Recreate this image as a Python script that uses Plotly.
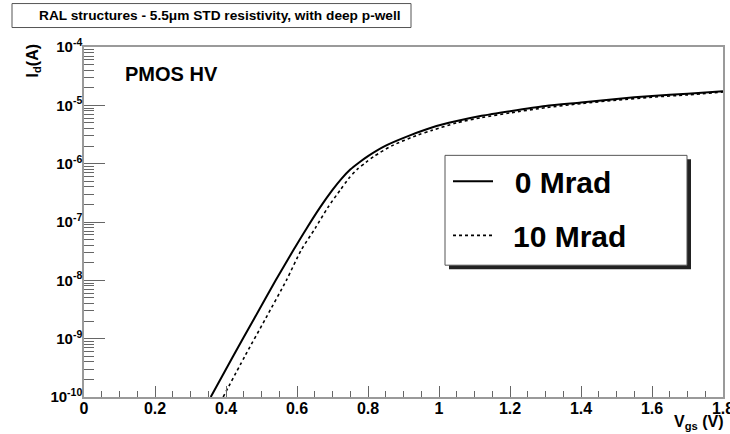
import plotly.graph_objects as go

# ---- data ----
vgs_0mrad = [0.357, 0.42, 0.48, 0.54, 0.59, 0.627, 0.665, 0.70, 0.725, 0.75, 0.775, 0.80, 0.85, 0.92,
             0.98, 1.05, 1.12, 1.20, 1.30, 1.40, 1.50, 1.60, 1.70, 1.80]
id_0mrad = [1.0e-10, 5.0e-10, 2.24e-9, 1.0e-8, 3.31e-8, 7.76e-8, 1.78e-7, 3.55e-7, 5.50e-7, 7.94e-7,
            1.05e-6, 1.35e-6, 2.04e-6, 3.09e-6, 4.17e-6, 5.37e-6, 6.61e-6, 7.94e-6, 9.77e-6, 1.12e-5,
            1.29e-5, 1.45e-5, 1.58e-5, 1.74e-5]

vgs_10mrad = [0.392, 0.453, 0.512, 0.57, 0.612, 0.651, 0.687, 0.722, 0.745, 0.769, 0.794, 0.818, 0.868,
              0.94, 0.98, 1.05, 1.12, 1.20, 1.30, 1.40, 1.50, 1.60, 1.70, 1.80]
id_10mrad = [1.0e-10, 5.0e-10, 2.24e-9, 1.0e-8, 3.31e-8, 7.76e-8, 1.78e-7, 3.55e-7, 5.50e-7, 7.94e-7,
             1.05e-6, 1.35e-6, 2.04e-6, 3.09e-6, 3.72e-6, 5.01e-6, 6.17e-6, 7.41e-6, 9.12e-6, 1.07e-5,
             1.23e-5, 1.38e-5, 1.51e-5, 1.70e-5]

x_tick_vals = [0, 0.2, 0.4, 0.6, 0.8, 1.0, 1.2, 1.4, 1.6, 1.8]
x_tick_text = ["0", "0.2", "0.4", "0.6", "0.8", "1", "1.2", "1.4", "1.6", "1.8"]
y_tick_vals = [1e-10, 1e-9, 1e-8, 1e-7, 1e-6, 1e-5, 1e-4]
y_tick_text = ["10<sup>-10</sup>", "10<sup>-9</sup>", "10<sup>-8</sup>", "10<sup>-7</sup>",
               "10<sup>-6</sup>", "10<sup>-5</sup>", "10<sup>-4</sup>"]

series_names = ["0 Mrad", "10 Mrad"]
title_text = "RAL structures - 5.5\u03bcm STD resistivity, with deep p-well"
label_text = "PMOS HV"

# ---- layout geometry (pixels) ----
# The canvas is a little wider than the 730 px window so the "1.8" label can
# overhang the frame (and be clipped by the window edge, as in the reference).
W, H = 748, 434
L, R, T, B = 84, 723, 46.5, 397


def px(xp):
    return (xp - L) / (R - L)


def py(yp):
    return (B - yp) / (B - T)


FONT = "Liberation Sans, Arial, Helvetica, sans-serif"

fig = go.Figure()
fig.add_trace(go.Scatter(x=vgs_0mrad, y=id_0mrad, mode="lines",
                         name="\u00a0\u00a0" + series_names[0], legendgroup="a",
                         line=dict(color="black", width=2, dash="solid", shape="spline", smoothing=0.7)))
fig.add_trace(go.Scatter(x=vgs_10mrad, y=id_10mrad, mode="lines",
                         name="\u2002" + series_names[1], legendgroup="b",
                         line=dict(color="black", width=1.6, dash="dot", shape="spline", smoothing=0.7)))

axis_common = dict(showline=True, linecolor="#9a9a9a", linewidth=1.5, mirror=True,
                   showgrid=False, zeroline=False, ticks="inside", tickcolor="#666",
                   tickwidth=1, ticklabeloverflow="allow",
                   tickfont=dict(family=FONT, color="black", weight="bold"))

fig.update_xaxes(range=[0, 1.8], tickvals=x_tick_vals, ticktext=x_tick_text, ticklen=11,
                 ticklabelstandoff=-4,
                 minor=dict(ticks="inside", dtick=0.05, ticklen=6, tickcolor="#666", showgrid=False),
                 **axis_common)
fig.update_xaxes(tickfont_size=16)
fig.update_yaxes(type="log", range=[-10, -4], tickvals=y_tick_vals, ticktext=y_tick_text, ticklen=21,
                 ticklabelstandoff=-3,
                 minor=dict(ticks="inside", dtick="D1", ticklen=10, tickcolor="#666", showgrid=False),
                 **axis_common)
fig.update_yaxes(tickfont_size=15)

shapes = [
    # title box
    dict(type="rect", xref="paper", yref="paper", x0=px(12), x1=px(411), y0=py(27), y1=py(3),
         line=dict(color="#555", width=1), fillcolor="white", layer="above"),
    # legend shadow and box
    dict(type="rect", xref="paper", yref="paper", x0=px(449), x1=px(691), y0=py(269), y1=py(159),
         line=dict(width=0), fillcolor="#222", layer="above"),
    dict(type="rect", xref="paper", yref="paper", x0=px(445), x1=px(687), y0=py(265), y1=py(155),
         line=dict(color="#555", width=1), fillcolor="white", layer="above"),
]

annotations = [
    dict(text=title_text, xref="paper", yref="paper", x=px(37), y=py(15), xanchor="left",
         yanchor="middle", showarrow=False, font=dict(family=FONT, size=13.7, color="black", weight="bold")),
    dict(text=label_text, xref="paper", yref="paper", x=px(171), y=py(74), xanchor="center",
         yanchor="middle", showarrow=False, font=dict(family=FONT, size=20, color="black", weight="bold")),
    dict(text="I<sub>d</sub>(A)", xref="paper", yref="paper", x=px(33), y=py(60), xanchor="center",
         yanchor="middle", textangle=-90, showarrow=False,
         font=dict(family=FONT, size=16, color="black", weight="bold")),
    dict(text="V<sub>gs</sub> (V)", xref="paper", yref="paper", x=px(726), y=py(411), xanchor="right",
         yanchor="top", showarrow=False, font=dict(family=FONT, size=16, color="black", weight="bold")),
]

fig.update_layout(
    width=W, height=H, autosize=False,
    margin=dict(l=L, r=W - R, t=T, b=H - B, pad=0),
    paper_bgcolor="white", plot_bgcolor="white",
    shapes=shapes, annotations=annotations,
    showlegend=True,
    legend=dict(x=px(448), y=py(155), xanchor="left", yanchor="top", bgcolor="rgba(0,0,0,0)",
                borderwidth=0, font=dict(family=FONT, size=30, color="black", weight="bold"),
                tracegroupgap=12, itemwidth=40),
    font=dict(family=FONT),
)

fig.write_html(
    "out.html",
    config={"displayModeBar": False, "responsive": False},
    post_script=("document.body.style.margin='0';"
                 "document.body.style.overflow='hidden';"
                 "document.documentElement.style.overflow='hidden';"),
)
